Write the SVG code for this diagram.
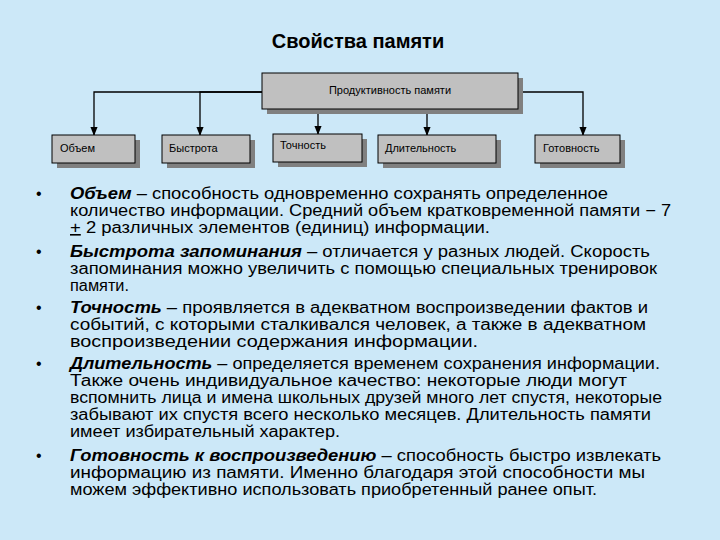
<svg xmlns="http://www.w3.org/2000/svg" width="720" height="540" viewBox="0 0 720 540">
<style>
.box{fill:#c0c0c0;stroke:#000;stroke-width:1}
.sh{fill:#808080}
.bl{font-family:"Liberation Sans",Arial,sans-serif;font-size:11px;fill:#000}
.t{font-family:"Liberation Sans",Arial,sans-serif;font-size:16px;fill:#000}
.b{font-weight:bold;font-style:italic}
.c{stroke:#000;stroke-width:1.3;fill:none;marker-end:url(#a)}
</style>
<defs><marker id="a" viewBox="0 0 10 10" refX="9" refY="5" markerWidth="7" markerHeight="7" orient="auto"><path d="M0,1L10,5L0,9z" fill="#000"/></marker></defs>
<rect width="720" height="540" fill="#cce8f8"/>
<text x="358" y="48" text-anchor="middle" font-family="Liberation Sans,Arial,sans-serif" font-size="20" font-weight="bold">Свойства памяти</text>
<g id="connectors">
<path class="c" d="M262,92H94V135"/>
<path class="c" d="M262,92H200V135"/>
<path class="c" d="M318,109V134"/>
<path class="c" d="M427,109V135"/>
<path class="c" d="M518,92H583V135"/>
</g>
<g id="top"><rect class="sh" x="267" y="78" width="256" height="36"/><rect class="box" x="262" y="73" width="256" height="36"/><text class="bl" x="390" y="94" text-anchor="middle">Продуктивность памяти</text></g>
<g id="n1"><rect class="sh" x="57" y="140" width="83" height="28"/><rect class="box" x="52" y="135" width="83" height="28"/><text class="bl" x="60" y="152">Объем</text></g>
<g id="n2"><rect class="sh" x="167" y="140" width="88" height="28"/><rect class="box" x="162" y="135" width="88" height="28"/><text class="bl" x="169" y="152">Быстрота</text></g>
<g id="n3"><rect class="sh" x="278" y="139" width="89" height="28"/><rect class="box" x="273" y="134" width="89" height="28"/><text class="bl" x="280" y="149">Точность</text></g>
<g id="n4"><rect class="sh" x="383" y="140" width="118" height="28"/><rect class="box" x="378" y="135" width="118" height="28"/><text class="bl" x="385" y="152">Длительность</text></g>
<g id="n5"><rect class="sh" x="540" y="140" width="85" height="28"/><rect class="box" x="535" y="135" width="85" height="28"/><text class="bl" x="543" y="152">Готовность</text></g>
<g id="text" class="t">
<text class="t" x="36" y="199">•</text><text class="t" x="36" y="257">•</text><text class="t" x="36" y="313">•</text><text class="t" x="36" y="369">•</text><text class="t" x="36" y="461">•</text>
<text class="t" x="70" y="199" textLength="538" lengthAdjust="spacingAndGlyphs"><tspan class="b">Объем</tspan> –   способность одновременно сохранять определенное</text>
<text class="t" x="70" y="216" textLength="601" lengthAdjust="spacingAndGlyphs">количество информации. Средний объем кратковременной памяти  − 7</text>
<text class="t" x="70" y="233" textLength="420" lengthAdjust="spacingAndGlyphs"><tspan text-decoration="underline">+</tspan> 2 различных элементов (единиц) информации.</text>
<text class="t" x="70" y="257" textLength="580" lengthAdjust="spacingAndGlyphs"><tspan class="b">Быстрота запоминания</tspan>  –  отличается у разных людей. Скорость</text>
<text class="t" x="70" y="274" textLength="587" lengthAdjust="spacingAndGlyphs">запоминания можно увеличить с помощью специальных тренировок</text>
<text class="t" x="70" y="291" textLength="59" lengthAdjust="spacingAndGlyphs">памяти.</text>
<text class="t" x="70" y="313" textLength="578" lengthAdjust="spacingAndGlyphs"><tspan class="b">Точность</tspan> –   проявляется в адекватном воспроизведении фактов и</text>
<text class="t" x="70" y="330" textLength="576" lengthAdjust="spacingAndGlyphs">событий, с которыми сталкивался человек, а также в адекватном</text>
<text class="t" x="70" y="347" textLength="408" lengthAdjust="spacingAndGlyphs">воспроизведении содержания информации.</text>
<text class="t" x="70" y="369" textLength="590" lengthAdjust="spacingAndGlyphs"><tspan class="b">Длительность</tspan> – определяется временем сохранения информации.</text>
<text class="t" x="70" y="386" textLength="557" lengthAdjust="spacingAndGlyphs">Также очень индивидуальное качество: некоторые люди могут</text>
<text class="t" x="70" y="403" textLength="592" lengthAdjust="spacingAndGlyphs">вспомнить лица и имена школьных друзей много лет спустя, некоторые</text>
<text class="t" x="70" y="420" textLength="581" lengthAdjust="spacingAndGlyphs">забывают их спустя всего несколько месяцев. Длительность памяти</text>
<text class="t" x="70" y="437" textLength="270" lengthAdjust="spacingAndGlyphs">имеет избирательный характер.</text>
<text class="t" x="70" y="461" textLength="591" lengthAdjust="spacingAndGlyphs"><tspan class="b">Готовность к воспроизведению</tspan> –   способность быстро извлекать</text>
<text class="t" x="70" y="478" textLength="575" lengthAdjust="spacingAndGlyphs">информацию из памяти. Именно благодаря этой способности мы</text>
<text class="t" x="70" y="495" textLength="527" lengthAdjust="spacingAndGlyphs">можем эффективно использовать приобретенный ранее опыт.</text>
</g>
</svg>
